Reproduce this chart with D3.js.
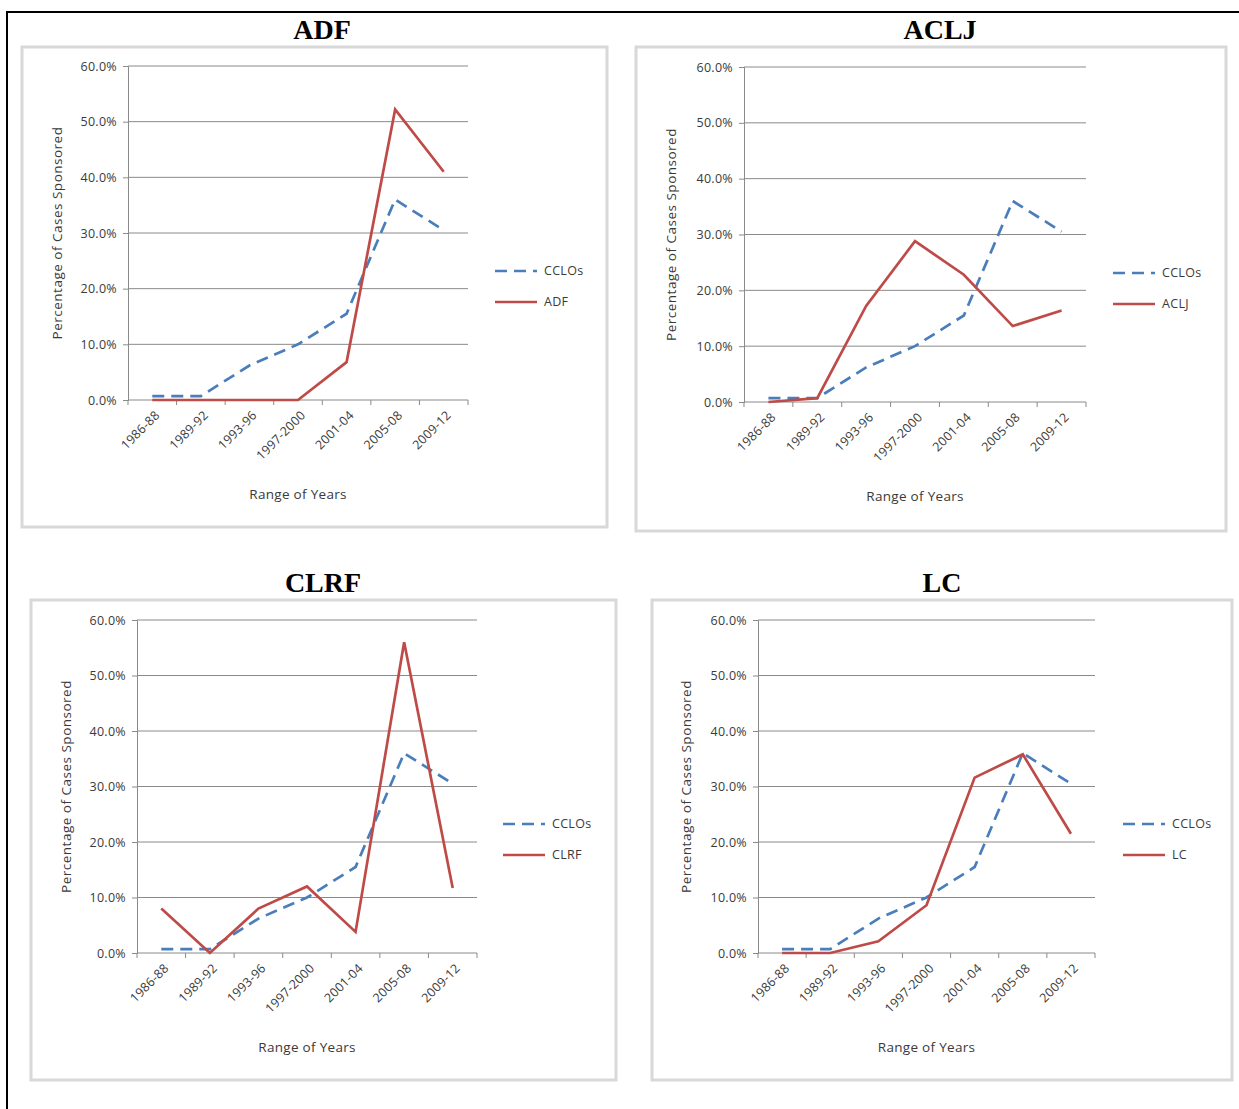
<!DOCTYPE html>
<html>
<head>
<meta charset="utf-8">
<script src="https://cdn.jsdelivr.net/npm/d3@7"></script>
<style>
  html, body { margin: 0; padding: 0; background: #fff; }
  svg { display: block; }
</style>
</head>
<body>
<svg id="chart" width="1239" height="1109"></svg>
<script>
// ---- data ----
const categories = ["1986-88", "1989-92", "1993-96", "1997-2000", "2001-04", "2005-08", "2009-12"];
const yTicks = [0, 10, 20, 30, 40, 50, 60];
const cclos = [0.7, 0.7, 6.2, 10.0, 15.5, 36.0, 30.5];
const adf   = [0, 0, 0, 0, 6.8, 52.2, 41.0];
const aclj  = [0, 0.7, 17.2, 28.8, 22.8, 13.6, 16.4];
const clrf  = [8.0, 0, 8.0, 12.0, 3.8, 56.0, 11.7];
const lc    = [0, 0, 2.1, 8.6, 31.6, 35.8, 21.5];
const panelNames = ["ADF", "ACLJ", "CLRF", "LC"];
const panelSeries = [adf, aclj, clrf, lc];
const refName = "CCLOs";
const xTitle = "Range of Years";
const yTitle = "Percentage of Cases Sponsored";

// ---- layout (positions only) ----
const layouts = [
  { box: [22, 47, 607, 527], titleX: 322, titleY: 39, plot: [128, 468, 66, 400], legX: 495, legY: 271, yTitleX: 57 },
  { box: [636, 47, 1226, 531], titleX: 940, titleY: 39, plot: [744, 1086, 67, 402], legX: 1113, legY: 273, yTitleX: 671 },
  { box: [31, 600, 616, 1080], titleX: 323, titleY: 592, plot: [137, 477, 620, 953], legX: 503, legY: 824, yTitleX: 66 },
  { box: [652, 600, 1232, 1080], titleX: 942, titleY: 592, plot: [758, 1095, 620, 953], legX: 1123, legY: 824, yTitleX: 686 }
];

const blue = "#4a7ebb";
const red = "#be4b48";
const gridColor = "#8a8a8a";
const textColor = "#3a3a3a";
const font = "'Open Sans', 'Liberation Sans', sans-serif";
const fs = 12.5;

const svg = d3.select("#chart");

// outer frame (top and left visible)
svg.append("line").attr("x1", 7).attr("x2", 1239).attr("y1", 12).attr("y2", 12)
  .attr("stroke", "#000").attr("stroke-width", 2);
svg.append("line").attr("x1", 7).attr("x2", 7).attr("y1", 11).attr("y2", 1109)
  .attr("stroke", "#000").attr("stroke-width", 2);

panelNames.forEach((name, i) => {
  const L = layouts[i];
  const series = panelSeries[i];
  const g = svg.append("g");

  // title
  g.append("text").attr("x", L.titleX).attr("y", L.titleY)
    .attr("text-anchor", "middle")
    .attr("font-family", "'Liberation Serif', 'Times New Roman', serif")
    .attr("font-weight", "bold").attr("font-size", 28).attr("fill", "#000")
    .text(name);

  // chart box
  g.append("rect")
    .attr("x", L.box[0]).attr("y", L.box[1])
    .attr("width", L.box[2] - L.box[0]).attr("height", L.box[3] - L.box[1])
    .attr("fill", "#fff").attr("stroke", "#d8d8d8").attr("stroke-width", 3);

  const [px0, px1, py0, py1] = L.plot;
  const x = d3.scaleBand().domain(categories).range([px0, px1]).paddingInner(0).paddingOuter(0);
  const y = d3.scaleLinear().domain([0, 60]).range([py1, py0]);

  // gridlines
  g.append("g").selectAll("line").data(yTicks.filter(t => t > 0)).join("line")
    .attr("x1", px0).attr("x2", px1)
    .attr("y1", d => y(d)).attr("y2", d => y(d))
    .attr("stroke", gridColor).attr("stroke-width", 1);

  // y axis
  const yAxis = d3.axisLeft(y).tickValues(yTicks).tickSize(5).tickPadding(6)
    .tickFormat(d => d3.format(".1f")(d) + "%");
  const ya = g.append("g").attr("transform", `translate(${px0},0)`).call(yAxis);
  ya.select(".domain").attr("stroke", gridColor);
  ya.selectAll(".tick line").attr("stroke", gridColor);
  ya.selectAll(".tick text").attr("font-family", font).attr("font-size", fs)
    .attr("letter-spacing", "0.3px").attr("fill", textColor);

  // x axis: ticks at band boundaries
  const xa = g.append("g").attr("transform", `translate(0,${py1})`);
  xa.append("line").attr("x1", px0).attr("x2", px1).attr("y1", 0).attr("y2", 0)
    .attr("stroke", gridColor);
  const boundaries = categories.map(c => x(c)).concat([px1]);
  xa.selectAll("line.tk").data(boundaries).join("line").attr("class", "tk")
    .attr("x1", d => d).attr("x2", d => d).attr("y1", 0).attr("y2", 5)
    .attr("stroke", gridColor);
  xa.selectAll("text").data(categories).join("text")
    .attr("transform", d => `translate(${x(d) + x.bandwidth() / 2 + 5},${13}) rotate(-45)`)
    .attr("text-anchor", "end").attr("dy", "0.35em")
    .attr("font-family", font).attr("font-size", fs).attr("letter-spacing", "0.2px")
    .attr("fill", textColor)
    .text(d => d);

  // axis titles
  g.append("text").attr("x", (px0 + px1) / 2).attr("y", py1 + 99)
    .attr("text-anchor", "middle").attr("font-family", font).attr("font-size", 13.5)
    .attr("letter-spacing", "0.3px")
    .attr("fill", textColor).text(xTitle);
  g.append("text")
    .attr("transform", `translate(${L.yTitleX},${(py0 + py1) / 2}) rotate(-90)`)
    .attr("text-anchor", "middle").attr("dy", "0.35em")
    .attr("font-family", font).attr("font-size", 13.5).attr("letter-spacing", "0.5px")
    .attr("fill", textColor).text(yTitle);

  // lines
  const line = d3.line()
    .x((d, j) => x(categories[j]) + x.bandwidth() / 2)
    .y(d => y(d));
  g.append("path").datum(cclos).attr("d", line)
    .attr("fill", "none").attr("stroke", blue).attr("stroke-width", 2.7)
    .attr("stroke-dasharray", "12,7");
  g.append("path").datum(series).attr("d", line)
    .attr("fill", "none").attr("stroke", red).attr("stroke-width", 2.7)
    .attr("stroke-linejoin", "miter");

  // legend
  const lg = g.append("g").attr("transform", `translate(${L.legX},${L.legY})`);
  lg.append("line").attr("x1", 0).attr("x2", 42).attr("y1", 0).attr("y2", 0)
    .attr("stroke", blue).attr("stroke-width", 2.7).attr("stroke-dasharray", "12,7");
  lg.append("text").attr("x", 49).attr("y", 0).attr("dy", "0.35em")
    .attr("font-family", font).attr("font-size", fs).attr("letter-spacing", "0.3px")
    .attr("fill", textColor).text(refName);
  lg.append("line").attr("x1", 0).attr("x2", 42).attr("y1", 31).attr("y2", 31)
    .attr("stroke", red).attr("stroke-width", 2.7);
  lg.append("text").attr("x", 49).attr("y", 31).attr("dy", "0.35em")
    .attr("font-family", font).attr("font-size", fs).attr("letter-spacing", "0.3px")
    .attr("fill", textColor).text(name);
});
</script>
</body>
</html>
